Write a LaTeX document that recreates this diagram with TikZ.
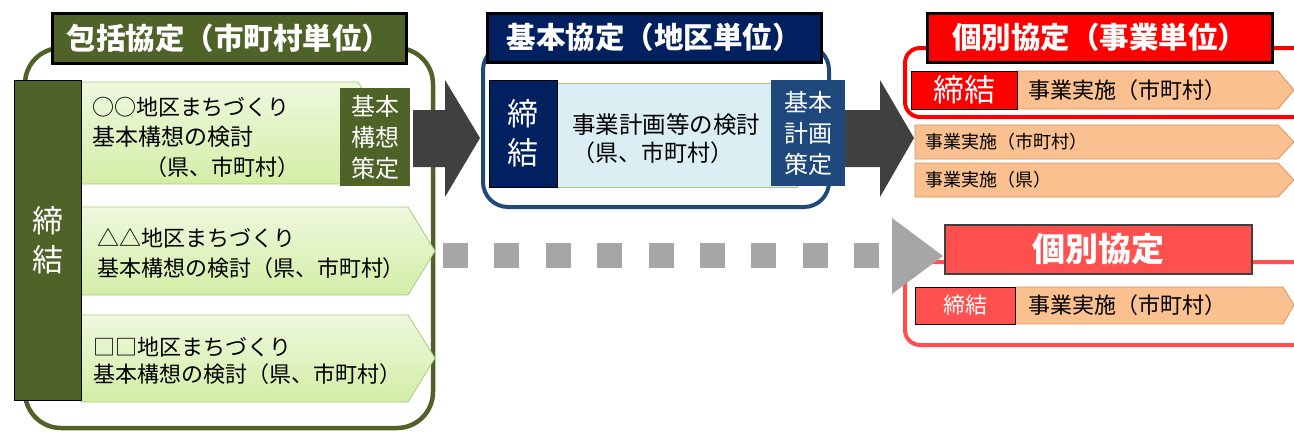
\documentclass[tikz,border=0pt]{standalone}
\usepackage{fontspec}
\setmainfont{Noto Sans CJK JP}
\definecolor{cOlive}{HTML}{4F6228}
\definecolor{cNavy}{HTML}{002060}
\definecolor{cSteel}{HTML}{1F497D}
\definecolor{cRed}{HTML}{FF0000}
\definecolor{cSalmon}{HTML}{FF5050}
\definecolor{cPeach}{HTML}{FAC090}
\definecolor{cPeachEdge}{HTML}{D8955A}
\definecolor{cDark}{HTML}{404040}
\definecolor{cGray}{HTML}{A6A6A6}
\definecolor{cGreenTop}{HTML}{EEF8DE}
\definecolor{cGreenBot}{HTML}{D3EEA6}
\definecolor{cGreenEdge}{HTML}{A8CB7A}
\definecolor{cLightBlue}{HTML}{DAEEF3}
\newcommand\FTitle{\fontsize{29.5}{34}\selectfont\bfseries}
\newcommand\FBig{\fontsize{31}{39}\selectfont}
\newcommand\FBox{\fontsize{22}{28}\selectfont}
\newcommand\FSide{\fontsize{24}{31}\selectfont}
\newcommand\FSmall{\fontsize{18}{22}\selectfont}
\tikzset{
  every node/.style={inner sep=0pt, outer sep=0pt},
  titlebox/.style={draw=black, line width=3pt, text=white, font=\FTitle, anchor=north west},
  darkbox/.style={text=white, align=center, anchor=north west},
  greenbox/.style={draw=cGreenEdge, line width=0.8pt, top color=cGreenTop, bottom color=cGreenBot},
  peachbox/.style={draw=cPeachEdge, line width=0.8pt, fill=cPeach},
  boxtext/.style={anchor=west, font=\FBox},
  bigarrow/.style={fill=cDark},
  frame/.style={line width=4.5pt}
}
\begin{document}
\begin{tikzpicture}[x=1pt,y=-1pt]
\useasboundingbox (0,0) rectangle (1294,432);

% ---------- left: 包括協定 ----------
\draw[frame, cOlive, rounded corners=36pt] (25,48) rectangle (433,428);
\draw[greenbox] (81,82) -- (358,82) -- (390,133) -- (358,184) -- (81,184) -- cycle;
\draw[greenbox] (81,207) -- (408,207) -- (435,251) -- (408,295) -- (81,295) -- cycle;
\draw[greenbox] (81,315) -- (408,315) -- (435,358) -- (408,402) -- (81,402) -- cycle;
\node[darkbox, draw=black, line width=1pt, fill=cOlive, minimum width=67pt, minimum height=320pt, font=\FBig] (tk1) at (14,80) {締\\結};
\node[boxtext] (b1a) at (92,107) {○○地区まちづくり};
\node[boxtext, font=\fontsize{23}{28}\selectfont] (b1b) at (92,137) {基本構想の検討};
\node[boxtext] (b1c) at (145,167) {（県、市町村）};
\node[boxtext] (b2a) at (97,238) {△△地区まちづくり};
\node[boxtext] (b2b) at (97,268) {基本構想の検討（県、市町村）};
\node[boxtext] (b3a) at (93,347) {□□地区まちづくり};
\node[boxtext] (b3b) at (93,374) {基本構想の検討（県、市町村）};
\node[darkbox, fill=cOlive, minimum width=70pt, minimum height=98pt, font=\FSide] (kk) at (340,88) {基本\\構想\\策定};
\node[titlebox, fill=cOlive, minimum width=354pt, minimum height=50pt] (t1) at (52,13) {包括協定（市町村単位）};

% arrow 1
\fill[bigarrow] (413,110) -- (445,110) -- (445,80) -- (480,138) -- (445,197) -- (445,167) -- (413,167) -- cycle;

% ---------- middle: 基本協定 ----------
\draw[frame, cSteel, line width=4pt, rounded corners=25pt] (483,45) rectangle (829,207);
\node[anchor=north west, draw=cGreenEdge, line width=0.8pt, fill=cLightBlue, minimum width=240pt, minimum height=104pt] (lb) at (557,83) {};
\node[boxtext, font=\fontsize{23.5}{28}\selectfont] (lba) at (572,125) {事業計画等の検討};
\node[boxtext, font=\fontsize{23}{28}\selectfont] (lbb) at (572,153) {（県、市町村）};
\node[darkbox, draw=black, line width=1pt, fill=cNavy, minimum width=68pt, minimum height=107pt, font=\FBig] (tk2) at (489,80) {締\\結};
\node[darkbox, fill=cSteel, minimum width=74pt, minimum height=106pt, font=\FSide] (kp) at (771,80) {基本\\計画\\策定};
\node[titlebox, fill=cNavy, minimum width=334pt, minimum height=49pt] (t2) at (487,13) {基本協定（地区単位）};

% arrow 2
\fill[bigarrow] (845,110) -- (880,110) -- (880,80) -- (914,138) -- (880,197) -- (880,167) -- (845,167) -- cycle;

% ---------- right top: 個別協定(事業単位) ----------
\draw[frame, cRed, line width=4pt, rounded corners=15pt] (905,48) rectangle (1330,117);
\node[titlebox, fill=cRed, minimum width=345pt, minimum height=49pt] (t3) at (927,13) {個別協定（事業単位）};
\draw[peachbox] (1017,71) -- (1278,71) -- (1294,90) -- (1278,109) -- (1017,109) -- cycle;
\node[darkbox, draw=black, line width=1pt, fill=cRed, minimum width=106pt, minimum height=38pt, font=\FBig] (tk3) at (911,71) {締結};
\node[boxtext] (p1) at (1028,90) {事業実施（市町村）};
\draw[peachbox] (915,125) -- (1278,125) -- (1294,142) -- (1278,159) -- (915,159) -- cycle;
\node[boxtext, font=\FSmall] (p2) at (925,142) {事業実施（市町村）};
\draw[peachbox] (915,163) -- (1278,163) -- (1294,180) -- (1278,197) -- (915,197) -- cycle;
\node[boxtext, font=\FSmall] (p3) at (925,180) {事業実施（県）};

% ---------- dotted arrow ----------
\foreach \i in {0,...,8} \fill[cGray] ({443+51.4*\i},243) rectangle +(25,25);

% ---------- right bottom: 個別協定 ----------
\draw[frame, cSalmon, line width=4pt, rounded corners=15pt] (905,262) rectangle (1330,345);
\fill[cGray] (892,218) -- (943,256) -- (892,294) -- cycle;
\node[titlebox, draw=cDark, line width=2pt, fill=cSalmon, minimum width=307pt, minimum height=49pt, font=\fontsize{33}{38}\selectfont\bfseries] (t4) at (945,225) {個別協定};
\draw[peachbox] (1015,287) -- (1283,287) -- (1294,305) -- (1283,324) -- (1015,324) -- cycle;
\node[darkbox, draw=black, line width=1pt, fill=cSalmon, minimum width=100pt, minimum height=37pt, font=\fontsize{22}{28}\selectfont] (tk4) at (915,287) {締結};
\node[boxtext] (p4) at (1028,305) {事業実施（市町村）};
\end{tikzpicture}
\end{document}
